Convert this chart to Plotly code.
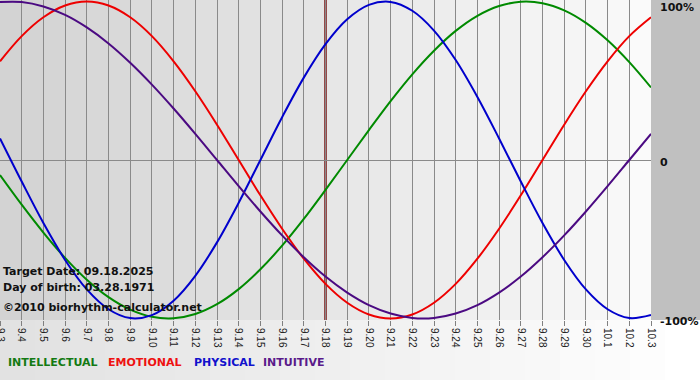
import plotly.graph_objects as go

# ---- data (percent) ----
dates = ["9.3", "9.4", "9.5", "9.6", "9.7", "9.8", "9.9", "9.10", "9.11", "9.12",
         "9.13", "9.14", "9.15", "9.16", "9.17", "9.18", "9.19", "9.20", "9.21", "9.22",
         "9.23", "9.24", "9.25", "9.26", "9.27", "9.28", "9.29", "9.30", "10.1", "10.2", "10.3"]

intellectual = [-9.5, -28.2, -45.8, -61.8, -75.6, -86.6, -94.5, -99.0, -99.9, -97.2,
                -91.0, -81.5, -69.0, -54.1, -37.2, -18.9, 0.0, 18.9, 37.2, 54.1,
                69.0, 81.5, 91.0, 97.2, 99.9, 99.0, 94.5, 86.6, 75.6, 61.8, 45.8]

emotional = [62.3, 78.2, 90.1, 97.5, 100.0, 97.5, 90.1, 78.2, 62.3, 43.4,
             22.3, 0.0, -22.3, -43.4, -62.3, -78.2, -90.1, -97.5, -100.0, -97.5,
             -90.1, -78.2, -62.3, -43.4, -22.3, 0.0, 22.3, 43.4, 62.3, 78.2, 90.1]

physical = [13.6, -13.6, -39.8, -63.1, -81.7, -94.2, -99.8, -97.9, -88.8, -73.1,
            -52.0, -27.0, 0.0, 27.0, 52.0, 73.1, 88.8, 97.9, 99.8, 94.2,
            81.7, 63.1, 39.8, 13.6, -13.6, -39.8, -63.1, -81.7, -94.2, -99.8, -97.9]

intuitive = [99.7, 99.7, 96.9, 91.6, 83.7, 73.6, 61.4, 47.6, 32.5, 16.5,
             0.0, -16.5, -32.5, -47.6, -61.4, -73.6, -83.7, -91.6, -96.9, -99.7,
             -99.7, -96.9, -91.6, -83.7, -73.6, -61.4, -47.6, -32.5, -16.5, 0.0, 16.5]

target_date = "9.18"
target_text = "Target Date: 09.18.2025"
birth_text = "Day of birth: 03.28.1971"
credit_text = "\u00a92010 biorhythm-calculator.net"
y_labels = [(100, "100%"), (0, "0"), (-100, "-100%")]

series = [
    ("INTELLECTUAL", intellectual, "#008a00", "#137a13"),
    ("EMOTIONAL", emotional, "#ee0000", "#ee1111"),
    ("PHYSICAL", physical, "#0000cc", "#1111cc"),
    ("INTUITIVE", intuitive, "#4b0a82", "#5a1a8a"),
]

W, H = 700, 380
ML, MR, MT, MB = 0, 49, 0, 60
PW, PH = W - ML - MR, H - MT - MB

def px_x(px):
    return (px - ML) / PW

def px_y(py):
    return 1 - (py - MT) / PH

xs = list(range(len(dates)))
fig = go.Figure()

for name, vals, col, _ in series:
    fig.add_trace(go.Scatter(x=xs, y=vals, mode="lines", name=name,
                             line=dict(color=col, width=2, shape="spline", smoothing=1.0),
                             showlegend=False, hoverinfo="skip"))

shapes = []
# gradient background of the plot area (one band per day)
n = len(dates) - 1
for i in range(n):
    g = int(211 + (250 - 211) * i / (n - 1))
    shapes.append(dict(type="rect", xref="x", yref="paper", x0=i, x1=i + 1, y0=0, y1=1,
                       fillcolor=f"rgb({g},{g},{g})", line=dict(width=0), layer="below"))
# right gray panel
shapes.append(dict(type="rect", xref="paper", yref="paper", x0=1, x1=px_x(W), y0=0, y1=1,
                   fillcolor="#c0c0c0", line=dict(width=0), layer="below"))
# bottom strip gradient
nb = 20
for i in range(nb):
    g = int(226 + (255 - 226) * i / (nb - 1))
    shapes.append(dict(type="rect", xref="paper", yref="paper",
                       x0=px_x(i * W / nb), x1=px_x((i + 1) * W / nb + 1),
                       y0=px_y(H), y1=0,
                       fillcolor=f"rgb({g},{g},{g})", line=dict(width=0), layer="below"))
# target date line
shapes.append(dict(type="line", xref="x", yref="paper", x0=dates.index(target_date),
                   x1=dates.index(target_date), y0=0, y1=1,
                   line=dict(color="#7a1414", width=2.5), layer="between"))

annotations = []
bold_font = "DejaVu Sans"
for yv, txt in y_labels:
    shift = {100: -6, 0: -2.5, -100: -3}[yv]
    annotations.append(dict(text=f"<b>{txt}</b>", xref="paper", yref="y", x=px_x(658), y=yv,
                            xanchor="left", yanchor="middle", yshift=shift, showarrow=False,
                            font=dict(family=bold_font, size=11, color="#111111")))
for py, txt in [(271, target_text), (287.5, birth_text), (307, credit_text)]:
    annotations.append(dict(text=f"<b>{txt}</b>", xref="paper", yref="paper", x=px_x(1), y=px_y(py),
                            xanchor="left", yanchor="middle", showarrow=False,
                            font=dict(family=bold_font, size=11, color="#111111")))
legend_x = [6, 106, 192, 261]
for (name, _, _, lcol), lx in zip(series, legend_x):
    annotations.append(dict(text=f"<b>{name}</b>", xref="paper", yref="paper", x=px_x(lx), y=px_y(362),
                            xanchor="left", yanchor="middle", showarrow=False,
                            font=dict(family=bold_font, size=11, color=lcol)))

fig.update_layout(
    width=W, height=H,
    margin=dict(l=ML, r=MR, t=MT, b=MB, pad=0),
    paper_bgcolor="#ffffff", plot_bgcolor="#d8d8d8",
    shapes=shapes, annotations=annotations,
    xaxis=dict(range=[0, n], tickmode="array", tickvals=xs, ticktext=dates,
               tickangle=90, ticks="outside", ticklen=5, tickcolor="#808080", tickwidth=1,
               showgrid=True, gridcolor="#8a8a8a", gridwidth=1, zeroline=False,
               showline=False, automargin=False, ticklabeloverflow="allow",
               tickfont=dict(family="Liberation Sans", size=10, color="#222222")),
    yaxis=dict(range=[-101, 101], showticklabels=False, showgrid=False,
               zeroline=True, zerolinecolor="#8a8a8a", zerolinewidth=1,
               showline=False, automargin=False, ticks=""),
    hovermode=False,
)

fig.write_html("out.html", config={"displayModeBar": False},
               post_script="document.body.style.margin='0';document.body.style.padding='0';")
